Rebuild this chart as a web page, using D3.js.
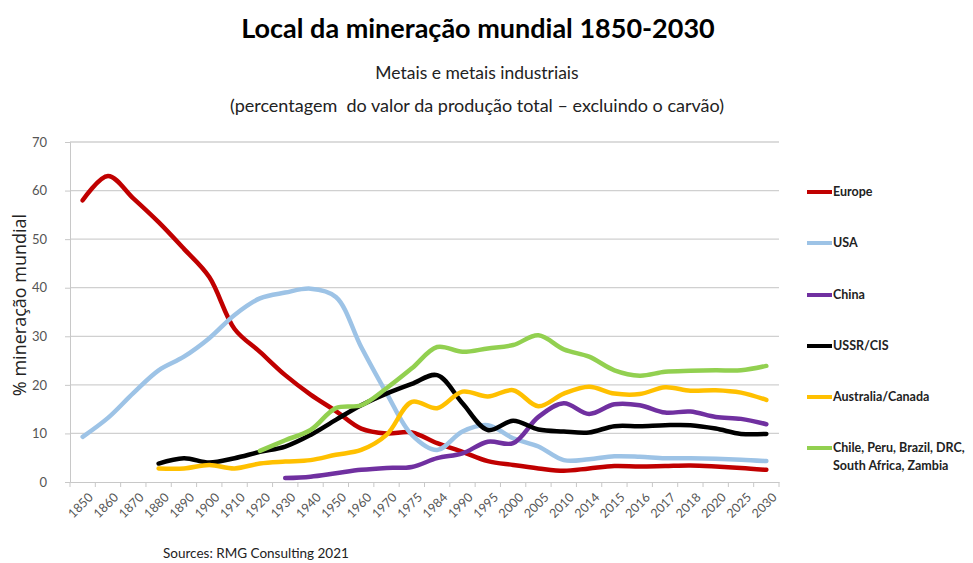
<!DOCTYPE html>
<html>
<head>
<meta charset="utf-8">
<script src="https://cdn.jsdelivr.net/npm/d3@7"></script>
<style>
  body { margin: 0; background: #fff; }
  svg { font-family: Lato, "Open Sans", sans-serif; }
</style>
</head>
<body>
<div id="chart"></div>
<script>
const years = ["1850", "1860", "1870", "1880", "1890", "1900", "1910", "1920", "1930", "1940",
  "1950", "1960", "1970", "1975", "1984", "1990", "1995", "2000", "2005", "2010",
  "2014", "2015", "2016", "2017", "2018", "2020", "2025", "2030"];

const europe = [58, 63, 58.4, 53.5, 48, 42.2, 31.5, 26.8, 22, 18, 14.6, 11, 10, 10.2, 8, 6.2,
  4.3, 3.5, 2.8, 2.3, 2.8, 3.3, 3.2, 3.3, 3.4, 3.2, 2.9, 2.5];
const usa = [9.3, 13.2, 18.3, 23, 25.8, 29.6, 34.4, 37.8, 39, 39.8, 38.1, 27.8, 18.3, 9.7, 6.6,
  10.4, 11.7, 9, 7.3, 4.5, 4.7, 5.3, 5.2, 4.9, 4.9, 4.8, 4.6, 4.3];
const china = [null, null, null, null, null, null, null, null, 0.8, 1.1, 1.8, 2.5, 2.9, 3.1, 4.9,
  5.9, 8.3, 8, 13.4, 16.2, 14, 16, 15.8, 14.3, 14.5, 13.4, 13, 11.9];
const ussr = [null, null, null, 3.8, 4.9, 4, 4.9, 6.2, 7.3, 9.7, 12.8, 15.8, 18.2, 20.2, 22,
  16.2, 10.7, 12.6, 10.8, 10.4, 10.2, 11.5, 11.5, 11.7, 11.7, 11, 9.9, 9.9];
const ausCan = [null, null, null, 2.8, 2.8, 3.5, 2.8, 3.8, 4.2, 4.5, 5.6, 6.6, 9.7, 16.5, 15.2,
  18.6, 17.6, 18.9, 15.6, 18.2, 19.6, 18.2, 18.1, 19.5, 18.8, 18.9, 18.4, 16.9];
const southGroup = [null, null, null, null, null, null, null, 6.4, 8.6, 10.7, 15.2, 15.8, 19.3,
  23.4, 27.8, 26.8, 27.5, 28.2, 30.2, 27.3, 25.8, 23, 21.9, 22.7, 22.9, 23, 23, 23.9];

const seriesNames = ["Europe", "USA", "China", "USSR/CIS", "Australia/Canada",
  "Chile, Peru, Brazil, DRC,|South Africa, Zambia"];
const seriesColors = ["#c00000", "#9dc3e6", "#7030a0", "#000000", "#ffc000", "#92d050"];
const yTicks = [0, 10, 20, 30, 40, 50, 60, 70];

const series = [europe, usa, china, ussr, ausCan, southGroup];

const width = 973;
const height = 563;
const margin = { top: 142, right: 194, bottom: 81, left: 70 };

const svg = d3
  .select("#chart")
  .append("svg")
  .attr("width", width)
  .attr("height", height);

// Titles
svg.append("text")
  .attr("x", 478).attr("y", 38)
  .attr("text-anchor", "middle")
  .attr("font-size", 27).attr("font-weight", "bold")
  .attr("fill", "#000")
  .text("Local da mineração mundial 1850-2030");

svg.append("text")
  .attr("x", 477).attr("y", 79)
  .attr("text-anchor", "middle")
  .attr("font-size", 17.5).attr("fill", "#222")
  .text("Metais e metais industriais");

svg.append("text")
  .attr("x", 477).attr("y", 112)
  .attr("text-anchor", "middle")
  .attr("font-size", 18).attr("fill", "#222")
  .attr("xml:space", "preserve")
  .text("(percentagem  do valor da produção total – excluindo o carvão)");

const plotW = width - margin.left - margin.right;
const plotH = height - margin.top - margin.bottom;

const g = svg.append("g")
  .attr("transform", `translate(${margin.left},${margin.top})`);

// Scales
const x = d3.scaleBand().domain(years).range([0, plotW]);
const y = d3.scaleLinear().domain([0, 70]).range([plotH, 0]);
const xc = (d) => x(d) + x.bandwidth() / 2;

// Gridlines
g.append("g")
  .selectAll("line")
  .data(yTicks.filter((t) => t > 0))
  .enter()
  .append("line")
  .attr("x1", 0).attr("x2", plotW)
  .attr("y1", (d) => y(d)).attr("y2", (d) => y(d))
  .attr("stroke", "#d0d0d0").attr("stroke-width", 1.3);

// Y axis
const yAxis = g.append("g")
  .call(d3.axisLeft(y).tickValues(yTicks).tickSize(5).tickPadding(18));
yAxis.select(".domain").attr("stroke", "#c8c8c8");
yAxis.selectAll(".tick line").attr("stroke", "#c8c8c8");
yAxis.selectAll("text").attr("fill", "#555").attr("font-size", 13)
  .attr("font-family", "Lato, sans-serif");

// X axis
const xAxis = g.append("g")
  .attr("transform", `translate(0,${plotH})`)
  .call(d3.axisBottom(x).tickSize(0).tickSizeOuter(0));
xAxis.select(".domain").attr("stroke", "#c8c8c8");
xAxis.selectAll(".tick line").remove();
xAxis.selectAll("text")
  .attr("fill", "#555").attr("font-size", 12.5)
  .attr("font-family", "Lato, sans-serif")
  .attr("text-anchor", "end")
  .attr("transform", "translate(6,11) rotate(-45)")
  .attr("dy", "0.35em");

// Tick marks between categories
g.append("g")
  .selectAll("line")
  .data(years.concat(["end"]))
  .enter()
  .append("line")
  .attr("x1", (d, i) => i * x.bandwidth())
  .attr("x2", (d, i) => i * x.bandwidth())
  .attr("y1", plotH).attr("y2", plotH + 5)
  .attr("stroke", "#c8c8c8");

// Lines
const line = d3.line()
  .defined((d) => d != null)
  .x((d, i) => xc(years[i]))
  .y((d) => y(d))
  .curve(d3.curveCatmullRom.alpha(0.5));

series.forEach((vals, k) => {
  g.append("path")
    .datum(vals)
    .attr("fill", "none")
    .attr("stroke", seriesColors[k])
    .attr("stroke-width", 4.5)
    .attr("stroke-linecap", "round")
    .attr("stroke-linejoin", "round")
    .attr("d", line);
});

// Legend
const legendY = [192, 243, 295, 346, 397, 448];
const legend = svg.append("g");
seriesNames.forEach((name, k) => {
  legend.append("line")
    .attr("x1", 807).attr("x2", 832)
    .attr("y1", legendY[k]).attr("y2", legendY[k])
    .attr("stroke", seriesColors[k])
    .attr("stroke-width", 4);
  const parts = name.split("|");
  parts.forEach((p, j) => {
    legend.append("text")
      .attr("x", 833).attr("y", legendY[k] + 4 + j * 18)
      .attr("font-size", 12.5).attr("font-weight", "bold")
      .attr("fill", "#222")
      .text(p);
  });
});

// Y axis title
svg.append("text")
  .attr("transform", "translate(26,305) rotate(-90)")
  .attr("text-anchor", "middle")
  .attr("font-size", 18).attr("fill", "#222")
  .attr("font-family", "'Open Sans', sans-serif")
  .text("% mineração mundial");

// Source
svg.append("text")
  .attr("x", 163).attr("y", 558)
  .attr("font-size", 13.5).attr("fill", "#222")
  .text("Sources: RMG Consulting 2021");
</script>
</body>
</html>
